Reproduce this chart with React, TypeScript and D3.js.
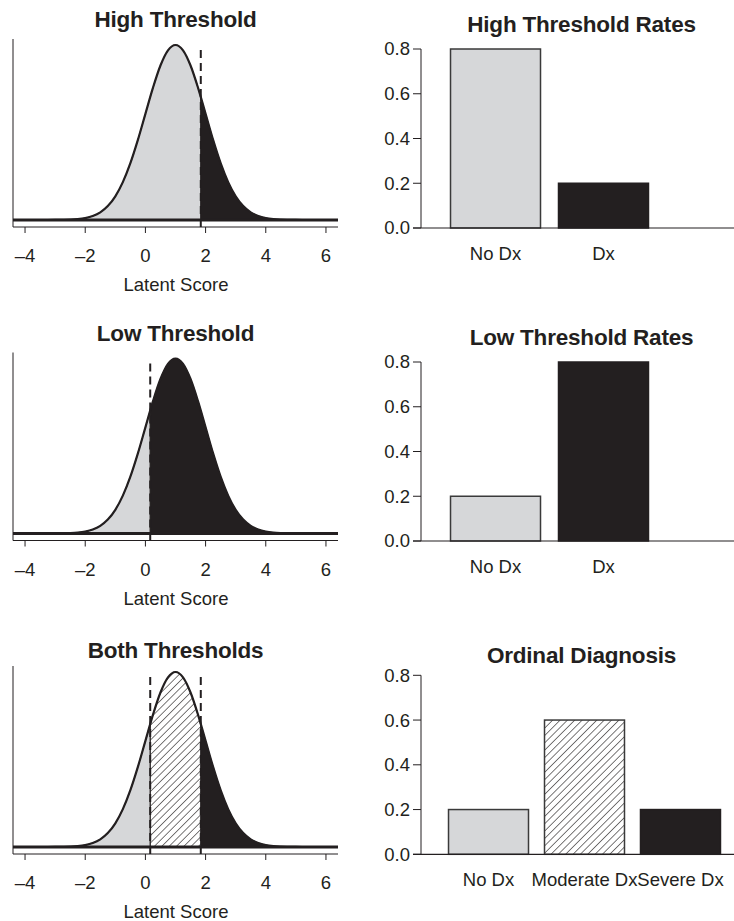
import React from "react";
import * as d3 from "d3";

// latent score grid and the density values
const latentScore = [
  -4.5, -4.25, -4, -3.75, -3.5, -3.25, -3, -2.75, -2.5, -2.25, -2, -1.75, -1.5, -1.25, -1, -0.75,
  -0.5, -0.25, 0, 0.25, 0.5, 0.75, 1, 1.25, 1.5, 1.75, 2, 2.25, 2.5, 2.75, 3, 3.25, 3.5, 3.75,
  4, 4.25, 4.5, 4.75, 5, 5.25, 5.5, 5.75, 6, 6.25, 6.5,
];
const density = [
  0, 0, 0, 0, 0, 0, 0.0001, 0.0004, 0.0009, 0.002, 0.0044, 0.0091, 0.0175, 0.0317, 0.054, 0.0863,
  0.1295, 0.1826, 0.242, 0.3011, 0.3521, 0.3867, 0.3989, 0.3867, 0.3521, 0.3011, 0.242, 0.1826,
  0.1295, 0.0863, 0.054, 0.0317, 0.0175, 0.0091, 0.0044, 0.002, 0.0009, 0.0004, 0.0001, 0, 0, 0, 0, 0, 0,
];

const lowThreshold = 0.16;
const highThreshold = 1.84;
const latentTicks = [-4, -2, 0, 2, 4, 6];

const rateTicks = [0, 0.2, 0.4, 0.6, 0.8];
const dxLabels = ["No Dx", "Dx"];
const highRates = [0.8, 0.2];
const lowRates = [0.2, 0.8];
const ordinalLabels = ["No Dx", "Moderate Dx", "Severe Dx"];
const ordinalRates = [0.2, 0.6, 0.2];

const GRAY = "#d6d7d9";
const BLACK = "#231f20";
const INK = "#231f20";
const FONT = "'Liberation Sans', Arial, Helvetica, sans-serif";

const points = latentScore.map((s, i) => ({ s, d: density[i] }));

function DensityPanel({ id, bottom, title, titleY, thresholds, fills }) {
  const left = 13, right = 338;
  const x = d3.scaleLinear().domain([-4.4, 6.4]).range([left, right]);
  const y = d3.scaleLinear().domain([-0.016, 0.416]).range([bottom, bottom - 189.5]);

  const area = d3.area()
    .x((p) => x(p.s))
    .y0(y(0))
    .y1((p) => y(p.d))
    .curve(d3.curveMonotoneX)(points);
  const line = d3.line()
    .x((p) => x(p.s))
    .y((p) => y(p.d))
    .curve(d3.curveMonotoneX)(points);

  // region edges: -inf, thresholds..., +inf
  const edges = [-4.4, ...thresholds, 6.4];

  return (
    <g>
      <defs>
        <clipPath id={`plot-${id}`}>
          <rect x={left} y={bottom - 200} width={right - left} height={200} />
        </clipPath>
        <clipPath id={`area-${id}`}>
          <path d={area} />
        </clipPath>
        {fills.map((f, i) => (
          <clipPath id={`reg-${id}-${i}`} key={i}>
            <rect x={x(edges[i])} y={bottom - 200} width={x(edges[i + 1]) - x(edges[i])} height={200} />
          </clipPath>
        ))}
      </defs>
      <text x={175.5} y={titleY} textAnchor="middle" fontFamily={FONT} fontWeight="bold" fontSize={22.5} fill={INK} letterSpacing={-0.2}>
        {title}
      </text>
      <g clipPath={`url(#plot-${id})`}>
        {fills.map((f, i) => (
          <path key={i} d={area} fill={f} stroke={INK} strokeWidth={1} clipPath={`url(#reg-${id}-${i})`} />
        ))}
        {thresholds.map((t, i) => (
          <line key={i} x1={x(t)} x2={x(t)} y1={bottom} y2={bottom - 200} stroke={INK} strokeWidth={1.3} clipPath={`url(#area-${id})`} />
        ))}
        <path d={line} fill="none" stroke={INK} strokeWidth={2.2} />
        <line x1={left} x2={right} y1={y(0)} y2={y(0)} stroke={INK} strokeWidth={2.8} />
      </g>
      {thresholds.map((t, i) => (
        <line key={i} x1={x(t)} x2={x(t)} y1={bottom} y2={y(0.395)} stroke={INK} strokeWidth={2} strokeDasharray="8,5" />
      ))}
      <line x1={left} x2={left} y1={bottom} y2={bottom - 188} stroke={INK} strokeWidth={1} />
      <line x1={left} x2={right} y1={bottom} y2={bottom} stroke={INK} strokeWidth={1} />
      {latentTicks.map((t) => (
        <g key={t}>
          <line x1={x(t)} x2={x(t)} y1={bottom} y2={bottom + 6} stroke={INK} strokeWidth={1} />
          <text x={x(t)} y={bottom + 35} textAnchor="middle" fontFamily={FONT} fontSize={18.5} fill={INK}>
            {t < 0 ? `\u2013${Math.abs(t)}` : t}
          </text>
        </g>
      ))}
      <text x={176} y={bottom + 64} textAnchor="middle" fontFamily={FONT} fontSize={18.5} fill={INK}>
        Latent Score
      </text>
    </g>
  );
}

function RatePanel({ bottom, title, titleY, values, labels, fills, xMax }) {
  const left = 421, right = 732;
  const pad = xMax * 0.04;
  const x = d3.scaleLinear().domain([-pad, xMax + pad]).range([left, right]);
  const y = d3.scaleLinear().domain([0, 0.8]).range([bottom, bottom - 179]);
  const bw = x(1) - x(0);

  return (
    <g>
      <text x={581.5} y={titleY} textAnchor="middle" fontFamily={FONT} fontWeight="bold" fontSize={22.5} fill={INK} letterSpacing={-0.2}>
        {title}
      </text>
      {values.map((v, i) => (
        <rect
          key={i}
          x={x(0.2 + 1.2 * i)}
          y={y(v)}
          width={bw}
          height={y(0) - y(v)}
          fill={fills[i]}
          stroke={fills[i] === BLACK ? BLACK : "#3a3a3a"}
          strokeWidth={1.5}
        />
      ))}
      {values.map((v, i) => (
        <text key={i} x={x(0.7 + 1.2 * i)} y={bottom + 32} textAnchor="middle" fontFamily={FONT} fontSize={18.5} fill={INK}>
          {labels[i]}
        </text>
      ))}
      <line x1={left} x2={left} y1={y(0)} y2={y(0.8)} stroke={INK} strokeWidth={1} />
      <line x1={413} x2={734} y1={y(0)} y2={y(0)} stroke={INK} strokeWidth={1.2} />
      {rateTicks.map((t) => (
        <g key={t}>
          <line x1={413} x2={left} y1={y(t)} y2={y(t)} stroke={INK} strokeWidth={1} />
          <text x={410} y={y(t)} dy="0.35em" textAnchor="end" fontFamily={FONT} fontSize={18.5} fill={INK}>
            {t.toFixed(1)}
          </text>
        </g>
      ))}
    </g>
  );
}

export default function App() {
  return (
    <svg width={734} height={921} style={{ position: "absolute", left: 0, top: 0, background: "#fff" }}>
      <defs>
        <pattern id="hatch" patternUnits="userSpaceOnUse" width={5.2} height={5.2} patternTransform="rotate(45)">
          <rect width={5.2} height={5.2} fill="#fff" />
          <line x1={0} y1={0} x2={0} y2={5.2} stroke={INK} strokeWidth={1.2} />
        </pattern>
      </defs>
      <rect width={734} height={921} fill="#fff" />

      <DensityPanel id="high" bottom={227} title="High Threshold" titleY={27}
        thresholds={[highThreshold]} fills={[GRAY, BLACK]} />
      <DensityPanel id="low" bottom={540.5} title="Low Threshold" titleY={341}
        thresholds={[lowThreshold]} fills={[GRAY, BLACK]} />
      <DensityPanel id="both" bottom={854} title="Both Thresholds" titleY={658}
        thresholds={[lowThreshold, highThreshold]} fills={[GRAY, "url(#hatch)", BLACK]} />

      <RatePanel bottom={228} title="High Threshold Rates" titleY={32}
        values={highRates} labels={dxLabels} fills={[GRAY, BLACK]} xMax={3.2} />
      <RatePanel bottom={541} title="Low Threshold Rates" titleY={345}
        values={lowRates} labels={dxLabels} fills={[GRAY, BLACK]} xMax={3.2} />
      <RatePanel bottom={854.3} title="Ordinal Diagnosis" titleY={663}
        values={ordinalRates} labels={ordinalLabels} fills={[GRAY, "url(#hatch)", BLACK]} xMax={3.6} />
    </svg>
  );
}
